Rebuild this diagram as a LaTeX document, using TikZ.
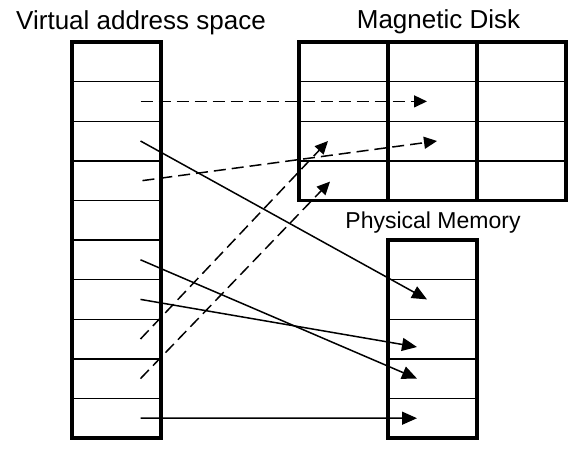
\documentclass[tikz,border=0pt]{standalone}
\usepackage{fontspec}
\setmainfont{Liberation Sans}
\usetikzlibrary{arrows.meta}

\begin{document}
\begin{tikzpicture}[x=1pt, y=-1pt,
    cell/.style={draw, line width=1.4pt, minimum width=89pt, minimum height=39.6pt, inner sep=0pt, outer sep=0pt},
    outline/.style={line width=3.2pt},
    heading/.style={anchor=base, font=\fontsize{26}{30}\selectfont},
    pagein/.style={-{Triangle[length=15pt,width=13pt]}, line width=1.5pt},
    pageout/.style={-{Triangle[length=13pt,width=12pt]}, line width=1.5pt, dash pattern=on 12pt off 6pt}]
            \useasboundingbox (0,0) rectangle (580,452);
            % titles
            \node[heading] (vtitle) at (141, 30) {Virtual address space};
            \node[heading] (dtitle) at (438.5, 29) {Magnetic Disk};
            \node[heading, font=\fontsize{23}{27}\selectfont] (ptitle) at (433, 228) {Physical Memory};
            % virtual address space, ten pages
            \foreach \i in {1,...,10}
                \node[cell] (v\i) at (116.5, 42+39.6*\i-19.8) {};
            \draw[outline] (v1.north west) rectangle (v10.south east);
            % magnetic disk, four rows of three blocks
            \foreach \r in {1,...,4}
                \foreach \c in {1,...,3}
                    \node[cell] (d\r\c) at (299+89*\c-44.5, 42+39.6*\r-19.8) {};
            \draw[outline] (d11.north west) rectangle (d43.south east);
            \draw[outline] (d11.north east) -- (d41.south east);
            \draw[outline] (d12.north east) -- (d42.south east);
            % physical memory, five frames
            \foreach \i in {1,...,5}
                \node[cell] (p\i) at (432.5, 240+39.6*\i-19.8) {};
            \draw[outline] (p1.north west) rectangle (p5.south east);
            % pages kept on the disk
            \draw[pageout] ([xshift=24pt]v2.center) -- ([xshift=-5.5pt]d22.center);
            \draw[pageout] ([xshift=26pt]v4.center) -- ([xshift=4.5pt]d32.center);
            \draw[pageout] ([xshift=24pt]v8.center) -- ([xshift=-15.5pt]d31.center);
            \draw[pageout] ([xshift=24pt]v9.center) -- ([xshift=-13.5pt,yshift=-1pt]d41.center);
            % pages held in physical memory
            \draw[pagein] ([xshift=24pt]v3.center) -- ([xshift=-5.5pt]p2.center);
            \draw[pagein] ([xshift=24pt]v6.center) -- ([xshift=-15.5pt]p4.center);
            \draw[pagein] ([xshift=24pt]v7.center) -- ([xshift=-15.5pt,yshift=-8pt]p3.center);
            \draw[pagein] ([xshift=24pt]v10.center) -- ([xshift=-15.5pt]p5.center);
        \end{tikzpicture}
\end{document}
